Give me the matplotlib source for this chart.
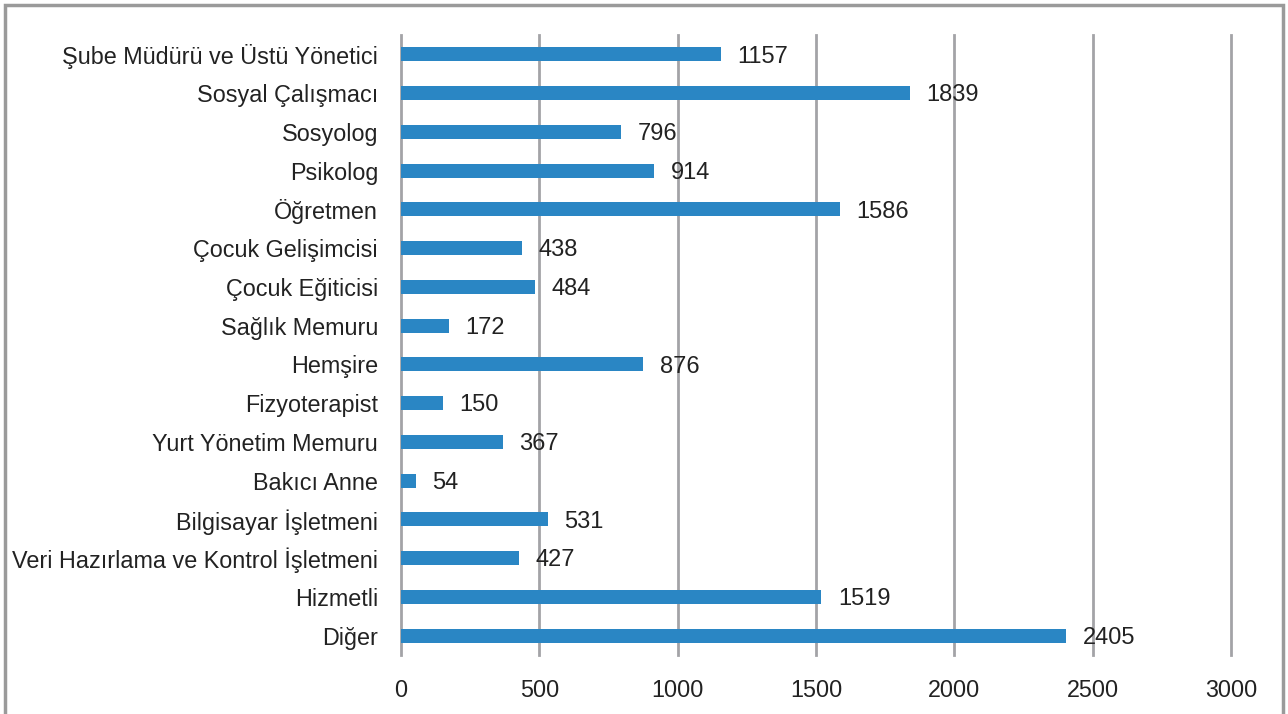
import matplotlib
matplotlib.use("Agg")
import matplotlib.pyplot as plt
from matplotlib.patches import Rectangle

categories = ["Şube Müdürü ve Üstü Yönetici", "Sosyal Çalışmacı", "Sosyolog", "Psikolog",
              "Öğretmen", "Çocuk Gelişimcisi", "Çocuk Eğiticisi", "Sağlık Memuru",
              "Hemşire", "Fizyoterapist", "Yurt Yönetim Memuru", "Bakıcı Anne",
              "Bilgisayar İşletmeni", "Veri Hazırlama ve Kontrol İşletmeni", "Hizmetli", "Diğer"]
values = [1157, 1839, 796, 914, 1586, 438, 484, 172, 876, 150, 367, 54, 531, 427, 1519, 2405]
xticks = [0, 500, 1000, 1500, 2000, 2500, 3000]

plt.rcParams['font.family'] = ['Liberation Sans', 'DejaVu Sans']

W, H = 1288, 714
fig = plt.figure(figsize=(W/100, H/100), dpi=100)
ax = fig.add_axes([401/W, 1-655/H, (1231-401)/W, (655-35)/H])

grid_c = '#a3a3a7'
bar_c = '#2a86c4'
txt_c = '#222222'
y = list(range(len(categories)))
for t in xticks:
    ax.axvline(t, color=grid_c, lw=2, zorder=1, clip_on=False)
ax.barh(y, values, height=0.36, color=bar_c, zorder=2)
for yi, v in zip(y, values):
    ax.text(v + 60, yi + 0.06, str(v), va='center', ha='left', fontsize=17, color=txt_c, zorder=3)

ax.set_xlim(0, 3000)
ax.set_ylim(len(categories)-0.5, -0.5)
ax.set_yticks(y)
ax.set_yticklabels(categories, fontsize=16.8, color=txt_c)
ax.set_xticks(xticks)
ax.set_xticklabels([str(t) for t in xticks], fontsize=16.8, color=txt_c)
ax.tick_params(axis='both', length=0)
ax.tick_params(axis='y', pad=16.5)
ax.tick_params(axis='x', pad=17)
for s in ax.spines.values():
    s.set_visible(False)

fig.patches.append(Rectangle((5/W, -0.05), (1283-5)/W, 1-5/H+0.05, transform=fig.transFigure,
                             fill=False, edgecolor='#9a9a9a', lw=2.5))
fig.savefig('out.png', dpi=100)
